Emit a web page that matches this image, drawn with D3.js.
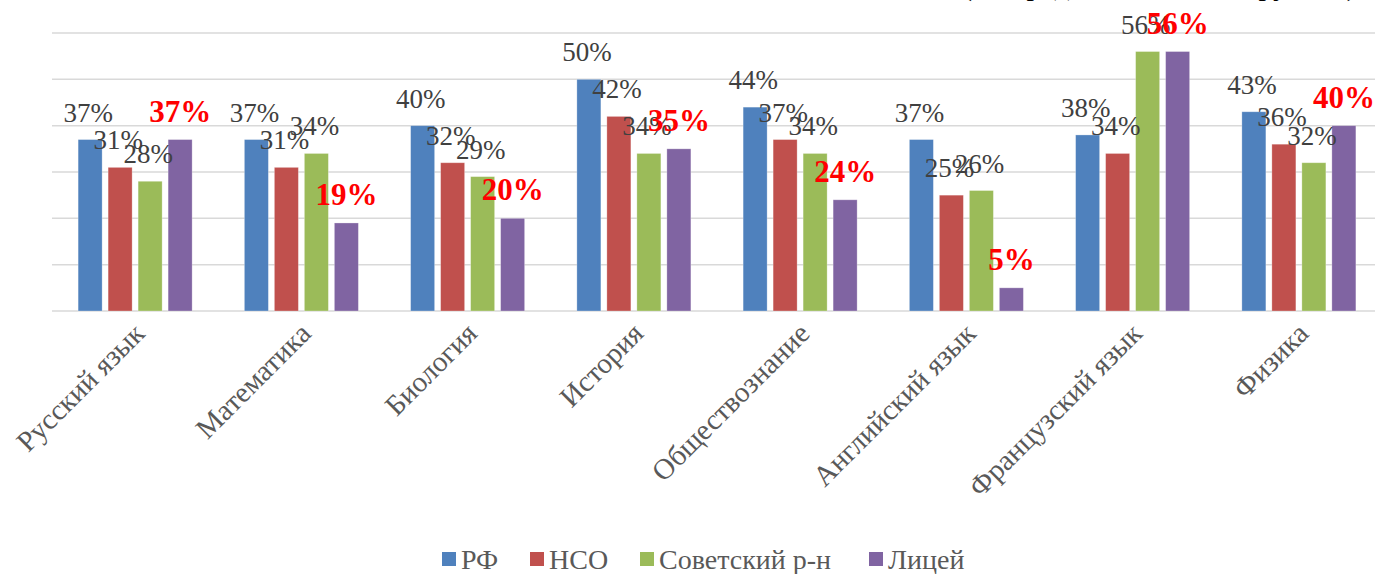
<!DOCTYPE html>
<html><head><meta charset="utf-8">
<script src="https://cdn.jsdelivr.net/npm/d3@7"></script>
</head><body style="margin:0;padding:0;background:#fff;overflow:hidden"><svg id="c" width="1375" height="574" style="display:block"></svg>
<script>
const categories = ["Русский язык","Математика","Биология","История","Обществознание","Английский язык","Французский язык","Физика"];
const seriesNames = ["РФ","НСО","Советский р-н","Лицей"];
const valuesRF = [37,37,40,50,44,37,38,43];
const valuesNSO = [31,31,32,42,37,25,34,36];
const valuesSov = [28,34,29,34,34,26,56,32];
const valuesLic = [37,19,20,35,24,5,56,40];
const yTicks = [0,10,20,30,40,50,60];
const colors = ["#4f81bd","#c0504d","#9bbb59","#8064a2"];
const titleText = "(по предметам по выбору, в %)";

const FF = '"Liberation Serif", "Times New Roman", Tinos, FreeSerif';
const allValues = [valuesRF, valuesNSO, valuesSov, valuesLic];
const svg = d3.select("#c");

const x0 = d3.scaleBand().domain(categories).range([52, 1382]).paddingInner(0).paddingOuter(0);
const y = d3.scaleLinear().domain([0, 60]).range([311, 33]);
const inner = 114;
const off = (x0.bandwidth() - inner) / 2;
const x1 = d3.scaleBand().domain(seriesNames).range([off, off + inner]).paddingInner(0.2).paddingOuter(0);

function txt(sel) { return sel.style("font-family", FF); }

// clipped title
txt(svg.append("text").attr("x", 962).attr("y", -5).attr("font-size", 30)
  .attr("fill", "#000").text(titleText));

// gridlines
svg.append("g").selectAll("line").data(yTicks).join("line")
  .attr("x1", 52).attr("x2", 1375).attr("y1", d => y(d)).attr("y2", d => y(d))
  .attr("stroke", "#d9d9d9").attr("stroke-width", 1.5);

// bars
const groups = svg.append("g").selectAll("g").data(categories).join("g")
  .attr("transform", c => `translate(${x0(c)},0)`);
groups.each(function(c, ci) {
  const g = d3.select(this);
  seriesNames.forEach((s, si) => {
    const v = allValues[si][ci];
    g.append("rect").attr("x", x1(s)).attr("width", x1.bandwidth())
      .attr("y", y(v)).attr("height", y(0) - y(v)).attr("fill", colors[si])
      .attr("stroke", "rgba(255,255,255,0.35)").attr("stroke-width", 0.8);
  });
});
// labels (drawn after bars)
groups.each(function(c, ci) {
  const g = d3.select(this);
  seriesNames.forEach((s, si) => {
    const v = allValues[si][ci];
    const red = si === 3;
    txt(g.append("text").attr("x", x1(s) + x1.bandwidth() / 2 - (red ? 0 : 2)).attr("y", y(v) - 18)
      .attr("text-anchor", "middle")
      .attr("font-size", red ? 31 : 27).attr("font-weight", red ? "bold" : "normal")
      .attr("fill", red ? "#ff0000" : "#404040").text(v + "%"));
  });
});

// category labels
txt(svg.append("g").selectAll("text").data(categories).join("text")
  .attr("transform", c => `translate(${x0(c) + x0.bandwidth() / 2 + 4},${328}) rotate(-45)`)
  .attr("text-anchor", "end").attr("dy", "0.35em")
  .attr("font-size", 29).attr("fill", "#595959").text(c => c));

// legend
const legendX = [442, 530, 640, 869];
const lg = svg.append("g").selectAll("g").data(seriesNames).join("g")
  .attr("transform", (d, i) => `translate(${legendX[i]},0)`);
lg.append("rect").attr("x", 0).attr("y", 552).attr("width", 14).attr("height", 14).attr("fill", (d, i) => colors[i]);
txt(lg.append("text").attr("x", 19).attr("y", 569).attr("font-size", 28)
  .attr("fill", "#595959").text(d => d));
</script></body></html>
